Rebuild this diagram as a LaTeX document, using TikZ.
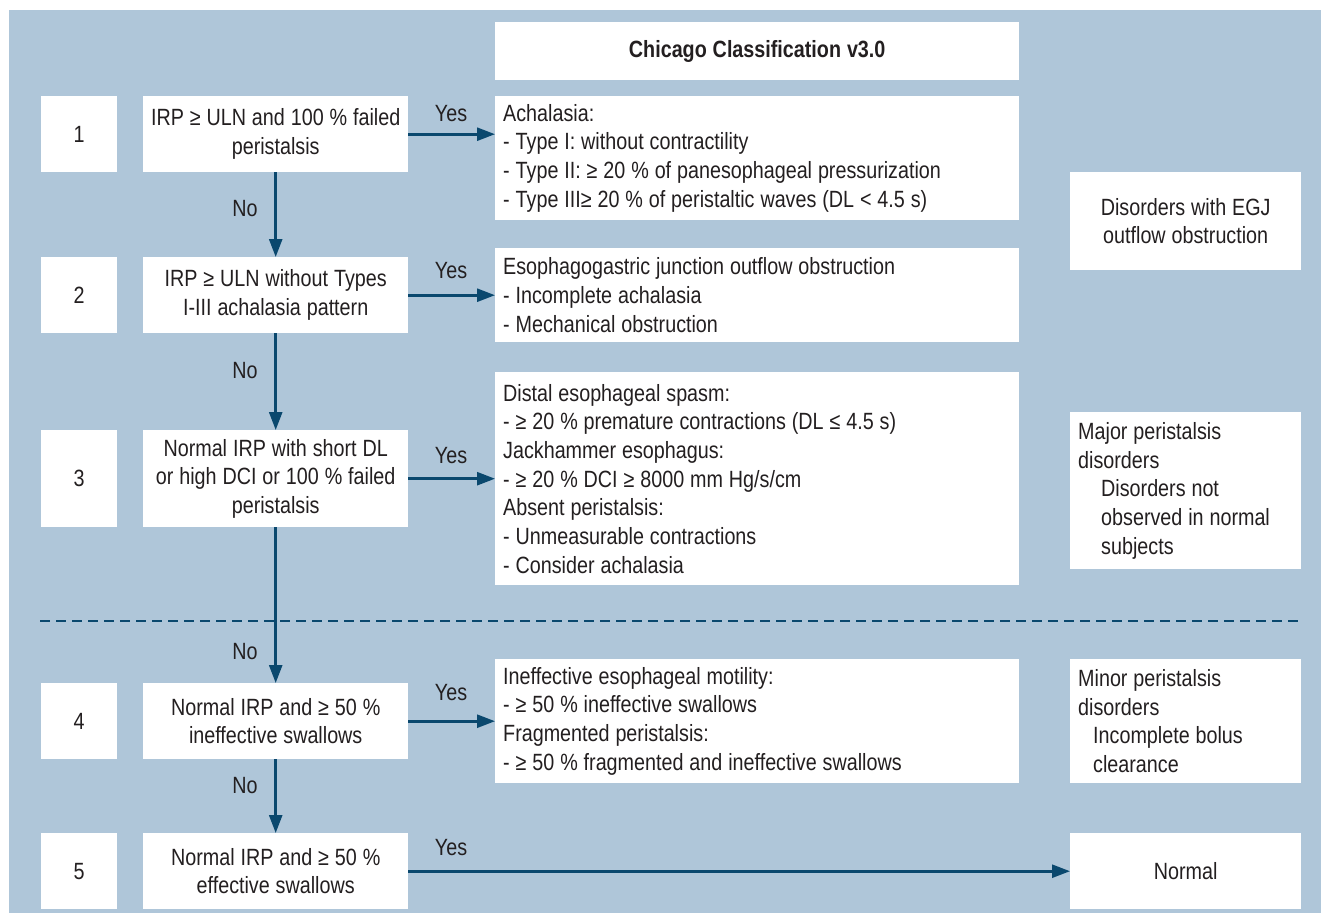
\documentclass[tikz,border=0pt]{standalone}
\usepackage{fontspec}
\setmainfont{Liberation Sans}[FakeStretch=0.84]
\usetikzlibrary{arrows.meta}
\definecolor{panel}{RGB}{175,198,217}
\definecolor{arrowblue}{RGB}{10,72,110}
\definecolor{txt}{RGB}{35,31,32}
\newcommand\diagfont{\fontsize{23.5}{28.7}\selectfont}
\tikzset{
  every node/.append style={execute at begin node={\spaceskip=5.9pt\relax\xspaceskip=5.9pt\relax}},
  base/.style={fill=white, inner sep=0pt, anchor=north west, text=txt, font=\diagfont},
  numbox/.style={base, minimum width=76pt, align=center},
  condbox/.style={base, minimum width=265pt, text width=263pt, inner xsep=1pt, align=center},
  resbox/.style={base, minimum width=524pt, text width=508pt, inner xsep=8pt, align=left},
  sidebox/.style={base, minimum width=231pt, text width=215pt, inner xsep=8pt, align=left},
  sideboxc/.style={sidebox, align=center},
  lbl/.style={text=txt, inner sep=0pt, font=\diagfont},
  arr/.style={draw=arrowblue, line width=2.6pt, -{Triangle[length=18pt,width=13pt]}},
  sep/.style={draw=arrowblue, line width=2.6pt, dash pattern=on 10pt off 6pt}
}
\begin{document}
\begin{tikzpicture}[x=1pt,y=-1pt]
\useasboundingbox (0,0) rectangle (1321,913);
\fill[panel] (9,10) rectangle (1321,913);

% title
\node[base, minimum width=524pt, minimum height=58pt, align=center] (title) at (495,22) {\bfseries Chicago Classification v3.0};

% number boxes
\node[numbox, minimum height=76pt] (n1) at (41,96) {1};
\node[numbox, minimum height=76pt] (n2) at (41,257) {2};
\node[numbox, minimum height=97pt] (n3) at (41,430) {3};
\node[numbox, minimum height=76pt] (n4) at (41,683) {4};
\node[numbox, minimum height=76pt] (n5) at (41,833) {5};

% condition boxes
\node[condbox, minimum height=76pt] (c1) at (143,96) {IRP ≥ ULN and 100 \% failed\\peristalsis};
\node[condbox, minimum height=76pt] (c2) at (143,257) {IRP ≥ ULN without Types\\I-III achalasia pattern};
\node[condbox, minimum height=97pt] (c3) at (143,430) {Normal IRP with short DL\\or high DCI or 100 \% failed\\peristalsis};
\node[condbox, minimum height=76pt] (c4) at (143,683) {Normal IRP and ≥ 50 \%\\ineffective swallows};
\node[condbox, minimum height=76pt] (c5) at (143,833) {Normal IRP and ≥ 50 \%\\effective swallows};

% result boxes
\node[resbox, minimum height=124pt] (r1) at (495,96) {Achalasia:\\- Type I: without contractility\\- Type II: ≥ 20 \% of panesophageal pressurization\\- Type III≥ 20 \% of peristaltic waves (DL < 4.5 s)};
\node[resbox, minimum height=94pt] (r2) at (495,248) {Esophagogastric junction outflow obstruction\\- Incomplete achalasia\\- Mechanical obstruction};
\node[resbox, minimum height=213pt] (r3) at (495,372) {Distal esophageal spasm:\\- ≥ 20 \% premature contractions (DL ≤ 4.5 s)\\Jackhammer esophagus:\\- ≥ 20 \% DCI ≥ 8000 mm Hg/s/cm\\Absent peristalsis:\\- Unmeasurable contractions\\- Consider achalasia};
\node[resbox, minimum height=124pt] (r4) at (495,659) {Ineffective esophageal motility:\\- ≥ 50 \% ineffective swallows\\Fragmented peristalsis:\\- ≥ 50 \% fragmented and ineffective swallows};

% side boxes
\node[sideboxc, minimum height=98pt] (s1) at (1070,172) {Disorders with EGJ\\outflow obstruction};
\node[sidebox, minimum height=157pt] (s2) at (1070,412) {Major peristalsis\\disorders\\\hspace*{23pt}Disorders not\\\hspace*{23pt}observed in normal\\\hspace*{23pt}subjects};
\node[sidebox, minimum height=124pt] (s3) at (1070,659) {Minor peristalsis\\disorders\\\hspace*{15pt}Incomplete bolus\\\hspace*{15pt}clearance};
\node[sideboxc, minimum height=76pt] (s4) at (1070,833) {Normal};

% dashed separator
\coordinate (dl) at (40,621);
\coordinate (dr) at (1301,621);
\draw[sep] (dl) -- (dr);

% yes arrows
\draw[arr] (c1.east) -- (c1.east -| r1.west);
\draw[arr] (c2.east) -- (c2.east -| r2.west);
\draw[arr] (c3.east) -- (c3.east -| r3.west);
\draw[arr] (c4.east) -- (c4.east -| r4.west);
\draw[arr] (c5.east) -- (c5.east -| s4.west);

\node[lbl] (y1) at (451,114) {Yes};
\node[lbl] (y2) at (451,271) {Yes};
\node[lbl] (y3) at (451,456) {Yes};
\node[lbl] (y4) at (451,693) {Yes};
\node[lbl] (y5) at (451,848) {Yes};

% no arrows
\draw[arr] (c1.south) -- (c2.north);
\draw[arr] (c2.south) -- (c3.north);
\draw[arr] (c3.south) -- (c4.north);
\draw[arr] (c4.south) -- (c5.north);

\node[lbl] (no1) at (245,209) {No};
\node[lbl] (no2) at (245,371) {No};
\node[lbl] (no3) at (245,652) {No};
\node[lbl] (no4) at (245,786) {No};
\end{tikzpicture}
\end{document}
